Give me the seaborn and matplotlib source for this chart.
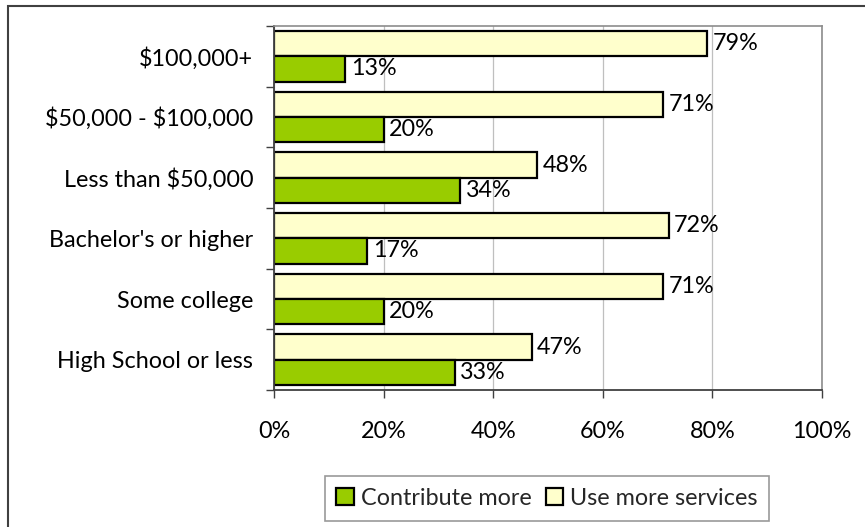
import matplotlib
matplotlib.use("Agg")
import matplotlib.pyplot as plt
from matplotlib.patches import Patch, Rectangle
from matplotlib.ticker import FixedLocator
import seaborn as sns
import pandas as pd

# Survey groups (top to bottom) and shares in percent
groups = ["$100,000+", "$50,000 - $100,000", "Less than $50,000",
          "Bachelor's or higher", "Some college", "High School or less"]
use_more_services = [79, 71, 48, 72, 71, 47]
contribute_more = [13, 20, 34, 17, 20, 33]
x_ticks = [0, 20, 40, 60, 80, 100]
x_tick_labels = ["0%", "20%", "40%", "60%", "80%", "100%"]

series_names = ["Use more services", "Contribute more"]
colors = {"Use more services": "#FFFFCC", "Contribute more": "#99CC00"}

df = pd.DataFrame({
    "group": groups * 2,
    "series": [series_names[0]] * len(groups) + [series_names[1]] * len(groups),
    "value": use_more_services + contribute_more,
})

sns.set_theme(style="white")
plt.rcParams["font.family"] = ["Lato", "DejaVu Sans"]
plt.rcParams["text.parse_math"] = False  # dollar signs are literal text
FS = 16.8

fig = plt.figure(figsize=(8.65, 5.27), dpi=100)
ax = fig.add_axes([274 / 865, 1 - 390 / 527, (822 - 274) / 865, (390 - 26) / 527])

sns.barplot(data=df, y="group", x="value", hue="series", order=groups,
            hue_order=series_names, palette=colors, orient="h", width=0.83,
            edgecolor="black", linewidth=1.6, ax=ax, legend=False, saturation=1)

# Value labels at the end of each bar
for container in ax.containers:
    ax.bar_label(container, labels=[f"{v:.0f}%" for v in container.datavalues],
                 padding=4, fontsize=FS, color="black")

ax.set_xlim(0, 100)
ax.set_ylim(len(groups) - 0.5, -0.5)
ax.set_xlabel("")
ax.set_ylabel("")

ax.set_xticks(x_ticks)
ax.set_xticklabels(x_tick_labels)
ax.tick_params(axis="x", which="major", direction="out", length=6, width=1,
               color="#404040", pad=16, labelsize=FS, labelcolor="black",
               bottom=True)

# Category labels without ticks; ticks drawn at group boundaries instead
ax.tick_params(axis="y", which="major", length=0, pad=15, labelsize=FS,
               labelcolor="black")
ax.yaxis.set_minor_locator(FixedLocator([i - 0.5 for i in range(len(groups) + 1)]))
ax.tick_params(axis="y", which="minor", direction="out", length=6, width=1,
               color="#404040", left=True)

ax.grid(axis="x", color="#BFBFBF", linewidth=0.9)
ax.set_axisbelow(True)
for side in ["top", "right"]:
    ax.spines[side].set_color("#8C8C8C")
    ax.spines[side].set_linewidth(1.2)
for side in ["left", "bottom"]:
    ax.spines[side].set_color("#404040")
    ax.spines[side].set_linewidth(1.3)

# Legend in a plain box below the plot
handles = [Patch(facecolor=colors["Contribute more"], edgecolor="black", linewidth=1.6,
                 label="Contribute more"),
           Patch(facecolor=colors["Use more services"], edgecolor="black", linewidth=1.6,
                 label="Use more services")]
leg = fig.legend(handles=handles, loc="center", ncol=2,
                 bbox_to_anchor=(547 / 865, 1 - 498.5 / 527),
                 bbox_transform=fig.transFigure, fontsize=FS, frameon=True,
                 fancybox=False, handlelength=0.75, handleheight=0.75,
                 handletextpad=0.3, columnspacing=0.6, borderpad=0.5)
leg.get_frame().set_edgecolor("#808080")
leg.get_frame().set_linewidth(1.2)

# Outer chart frame
fig.patches.append(Rectangle((8 / 865, -0.2), 1.2, 1.2 - 6 / 527,
                             transform=fig.transFigure, fill=False,
                             edgecolor="#404040", linewidth=1.5))

fig.savefig("out.png", dpi=100, facecolor="white")
